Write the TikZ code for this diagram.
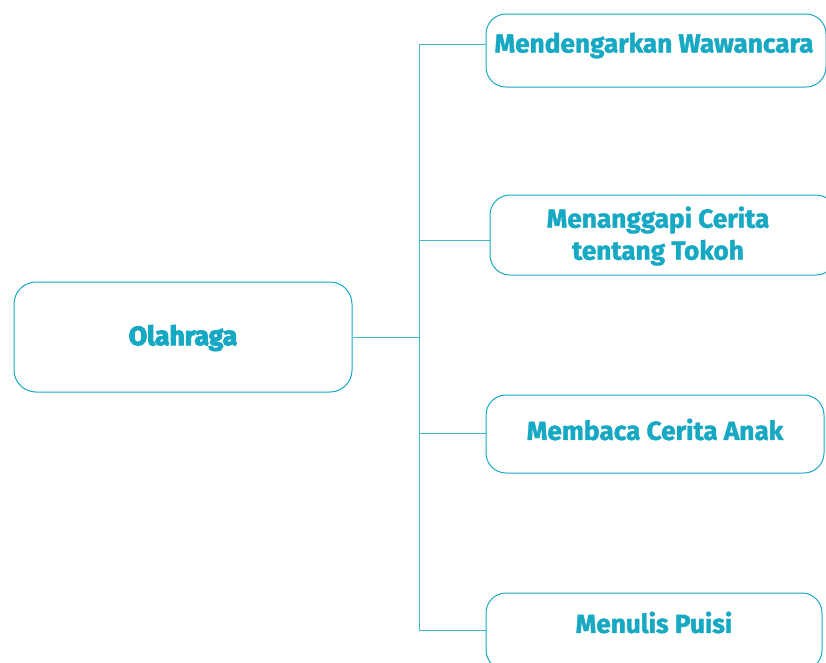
\documentclass[tikz,border=0pt]{standalone}
\usepackage{fontspec}
\setmainfont{Fira Sans}[BoldFeatures = {FakeBold = 1.5}]
\newfontfamily\heavyfont{Fira Sans}[BoldFeatures = {FakeBold = 4}]
\definecolor{teal}{HTML}{17A9C4}
\definecolor{lightteal}{HTML}{3FB8CE}

\begin{document}
\begin{tikzpicture}[%
        x = 1pt,
        y = -1pt,
        line width = 1pt,
        every edge/.style = {%
            draw = lightteal,
            line width = 1pt
        },
        topicbox/.style = {
            draw = teal,
            fill = white,
            rounded corners = 22pt,
            minimum width = 338pt,
            minimum height = 110pt,
            inner sep = 0pt
        },
        subbox/.style = {
            draw = teal,
            fill = white,
            rounded corners = 20pt,
            inner sep = 0pt
        },
        subtext/.style = {
            text = teal,
            font = \bfseries\fontsize{26.2}{32}\selectfont,
            align = center,
            inner sep = 0pt
        }
    ]

        \useasboundingbox (0, 0) rectangle (826, 662);

        % Topic box on the left.
        \node[topicbox] at (183, 337) (olahraga) {};
        \node[text = teal, font = \heavyfont\bfseries\fontsize{26.5}{30}\selectfont,
              inner sep = 0pt] at (183, 338) (olahragatext) {Olahraga};

        % Boxes on the right.
        \node[subbox, minimum width = 340pt, minimum height = 73pt] at (656, 50.5) (dengar) {};
        \node[subbox, minimum width = 346pt, minimum height = 80pt] at (663, 235) (tanggap) {};
        \node[subbox, minimum width = 338pt, minimum height = 78pt] at (655, 434) (baca) {};
        \node[subbox, minimum width = 336pt, minimum height = 77pt] at (654, 631.5) (tulis) {};

        % Texts of the boxes on the right.
        \node[subtext] at (654, 45.5) (dengartext) {Mendengarkan Wawancara};
        \node[subtext] at (658, 236) (tanggaptext) {Menanggapi Cerita\\tentang Tokoh};
        \node[subtext] at (655, 429.5) (bacatext) {Membaca Cerita Anak};
        \node[subtext] at (654, 622.5) (tulistext) {Menulis Puisi};

        % Points on the trunk line.
        \coordinate (jroot) at (419, 337);
        \coordinate (j1) at (419, 44);
        \coordinate (j2) at (419, 240);
        \coordinate (j3) at (419, 433);
        \coordinate (j4) at (419, 630);

        % Draw the trunk and its branches.
        \path (olahraga.east) edge (jroot);
        \path (j1) edge (j4);
        \path (j1) edge (j1 -| dengar.west);
        \path (j2) edge (j2 -| tanggap.west);
        \path (j3) edge (j3 -| baca.west);
        \path (j4) edge (j4 -| tulis.west);
    \end{tikzpicture}
\end{document}
